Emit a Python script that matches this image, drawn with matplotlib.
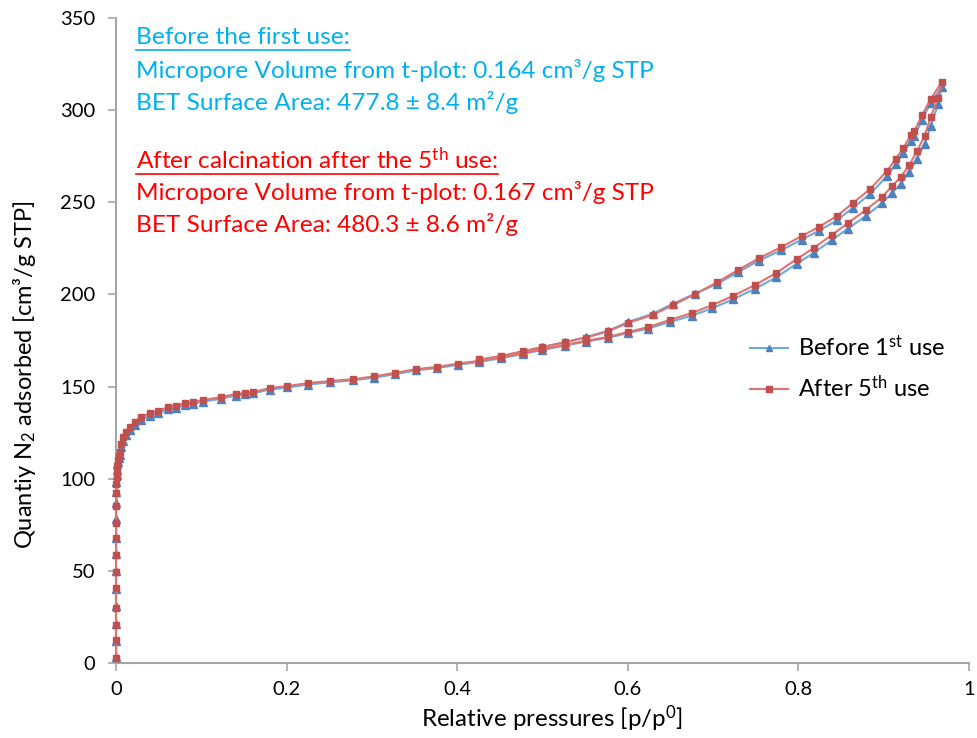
import matplotlib
matplotlib.use("Agg")
import matplotlib.pyplot as plt
from matplotlib.lines import Line2D

plt.rcParams['font.family'] = ['Lato', 'DejaVu Sans']
plt.rcParams['mathtext.fontset'] = 'custom'
plt.rcParams['mathtext.rm'] = 'Lato'
plt.rcParams['mathtext.it'] = 'Lato:italic'
plt.rcParams['mathtext.bf'] = 'Lato:bold'

# After 5th use (red) - adsorption branch
after_ads_x = [1e-6, 2e-6, 4e-6, 7e-6, 1e-5, 2e-5, 4e-5, 7e-5, 1.2e-4, 2e-4,
               3.5e-4, 5e-4, 7e-4, 1e-3, 1.5e-3, 0.0023, 0.0035, 0.0047, 0.006, 0.008,
               0.012, 0.016, 0.022, 0.029, 0.04, 0.049, 0.061, 0.07, 0.081, 0.09,
               0.102, 0.123, 0.141, 0.151, 0.161, 0.18, 0.201, 0.225, 0.251, 0.278,
               0.302, 0.327, 0.352, 0.376, 0.401, 0.426, 0.451, 0.477, 0.5, 0.526,
               0.551, 0.577, 0.6, 0.624, 0.649, 0.675, 0.699, 0.723, 0.749, 0.774,
               0.798, 0.818, 0.839, 0.858, 0.879, 0.898, 0.910, 0.920, 0.930, 0.939,
               0.948, 0.955, 0.964, 0.968]
after_ads_y = [2.7, 12.5, 20.6, 30, 40.5, 49.5, 58.5, 68, 76, 85,
               92, 97, 101, 104, 107, 110, 112.5, 114.5, 119, 122.6,
               125.3, 128, 130.8, 133.5, 135.6, 136.7, 138.9, 139.4, 141.1, 141.6,
               142.7, 144.3, 146, 146.5, 147, 149.2, 150.3, 151.9, 153, 154,
               155.5, 157.4, 159.5, 160.6, 162.5, 164, 165.8, 168.2, 170.3, 172.6,
               174.8, 177, 179.6, 182.3, 186.1, 189.9, 194.2, 199.1, 205.1, 211.6,
               219.2, 225.2, 232.2, 238.7, 245.8, 252.8, 258.8, 263.7, 270.2, 277.8,
               286, 296.3, 306.6, 315.2]
# desorption branch
after_des_x = [0.955, 0.945, 0.936, 0.932, 0.923, 0.914, 0.904, 0.884, 0.864, 0.845,
               0.824, 0.804, 0.780, 0.754, 0.729, 0.705, 0.679, 0.653, 0.629, 0.600,
               0.577, 0.551, 0.526, 0.500, 0.477, 0.451, 0.426]
after_des_y = [306, 297.3, 288.7, 286.5, 279.4, 273.5, 267, 257.2, 249.6, 242.5,
               236.6, 231.7, 225.7, 219.7, 213.2, 206.7, 200.2, 194.2, 188.8, 184.5,
               180, 176.6, 174, 171.5, 169.2, 166.6, 164.7]

# Before 1st use (blue)
before_ads_x = after_ads_x
before_ads_y = [3, 12, 21, 31, 40, 50, 59, 68, 78, 87,
                93, 98, 102, 105, 108, 109, 111, 113, 117, 120.5,
                123.5, 126.3, 129.2, 132, 134.2, 135.5, 137.6, 138.3, 140, 140.7,
                141.8, 143.4, 145.1, 145.7, 146.3, 148.4, 149.5, 151.1, 152.3, 153.4,
                154.8, 156.7, 158.8, 160, 161.8, 163.4, 165.3, 167.7, 169.9, 172.2,
                174.4, 176.5, 179, 181.5, 185, 188.5, 192.5, 197.3, 203, 209.3,
                216.6, 222.6, 229.4, 235.7, 242.6, 249.5, 255.2, 260, 266.3, 273.5,
                281.5, 291.3, 303.5, 312.5]
before_des_x = after_des_x
before_des_y = [304, 294.6, 285.8, 283.5, 276.5, 270.6, 264.2, 254.5, 247, 240.2,
                234.5, 229.8, 224, 218.4, 212, 205.8, 200.4, 195, 189.5, 185,
                180.3, 176.8, 174.1, 171.4, 169, 166.3, 164.3]

fig = plt.figure(figsize=(9.78, 7.38), dpi=100)
ax = fig.add_axes([116 / 978, 75 / 738, 853 / 978, 645 / 738])

ax.plot(before_ads_x + before_des_x, before_ads_y + before_des_y, color='#6FA8DC',
        lw=1.5, marker='^', ms=5.5, mfc='#4F81BD', mec='#4F81BD',
        label='Before 1$^{\\mathrm{st}}$ use', zorder=3, clip_on=False)
ax.plot(after_ads_x + after_des_x, after_ads_y + after_des_y, color='#E07370',
        lw=1.5, marker='s', ms=4.5, mfc='#C0504D', mec='#C0504D',
        label='After 5$^{\\mathrm{th}}$ use', zorder=3, clip_on=False)

ax.set_xlim(0, 1)
ax.set_ylim(0, 350)
ax.set_xticks([0, 0.2, 0.4, 0.6, 0.8, 1])
ax.set_xticklabels(['0', '0.2', '0.4', '0.6', '0.8', '1'])
ax.set_yticks(range(0, 351, 50))
for s in ['top', 'right']:
    ax.spines[s].set_visible(False)
for s in ['left', 'bottom']:
    ax.spines[s].set_color('#A6A6A6')
    ax.spines[s].set_linewidth(1.5)
ax.tick_params(direction='out', length=6, width=1.2, color='#A6A6A6',
               labelsize=14.5)
ax.tick_params(axis='y', pad=9)
ax.tick_params(axis='x', pad=7)

ax.set_xlabel('Relative pressures [p/p$^{\\mathrm{0}}$]', fontsize=17.4)
ax.xaxis.set_label_coords(0.511, -0.063)
ax.set_ylabel('Quantiy N$_{\\mathrm{2}}$ adsorbed [cm³/g STP]', fontsize=17)
ax.yaxis.set_label_coords(-0.091, 0.447)

ax.legend(loc='upper left', bbox_to_anchor=(750 / 978, 1 - 335 / 738),
          bbox_transform=fig.transFigure,
          frameon=False, fontsize=17, handlelength=1.6, handletextpad=0.45,
          labelspacing=0.62, borderpad=0, borderaxespad=0, markerscale=0.9)

blue_txt = '#00B0F0'
red_txt = '#FF0000'
fs = 17.6
h1 = fig.text(136 / 978, 1 - 38 / 738, 'Before the first use:', color=blue_txt,
              fontsize=fs, va='center')
fig.text(136 / 978, 1 - 70 / 738, 'Micropore Volume from t-plot: 0.164 cm³/g STP',
         color=blue_txt, fontsize=fs, va='center')
fig.text(136 / 978, 1 - 102 / 738, 'BET Surface Area: 477.8 ± 8.4 m²/g',
         color=blue_txt, fontsize=fs, va='center')
h2 = fig.text(136 / 978, 1 - 160 / 738, 'After calcination after the 5$^{\\mathrm{th}}$ use:',
              color=red_txt, fontsize=fs, va='center')
fig.text(136 / 978, 1 - 192 / 738, 'Micropore Volume from t-plot: 0.167 cm³/g STP',
         color=red_txt, fontsize=fs, va='center')
fig.text(136 / 978, 1 - 224 / 738, 'BET Surface Area: 480.3 ± 8.6 m²/g',
         color=red_txt, fontsize=fs, va='center')

# underline the two headings
fig.canvas.draw()
r = fig.canvas.get_renderer()
for t, c in [(h1, blue_txt), (h2, red_txt)]:
    bb = t.get_window_extent(r)
    y = bb.y0 - 1
    fig.add_artist(Line2D([bb.x0 / 978, bb.x1 / 978], [y / 738, y / 738],
                          transform=fig.transFigure, color=c, lw=1.2))

fig.savefig('out.png', dpi=100)
